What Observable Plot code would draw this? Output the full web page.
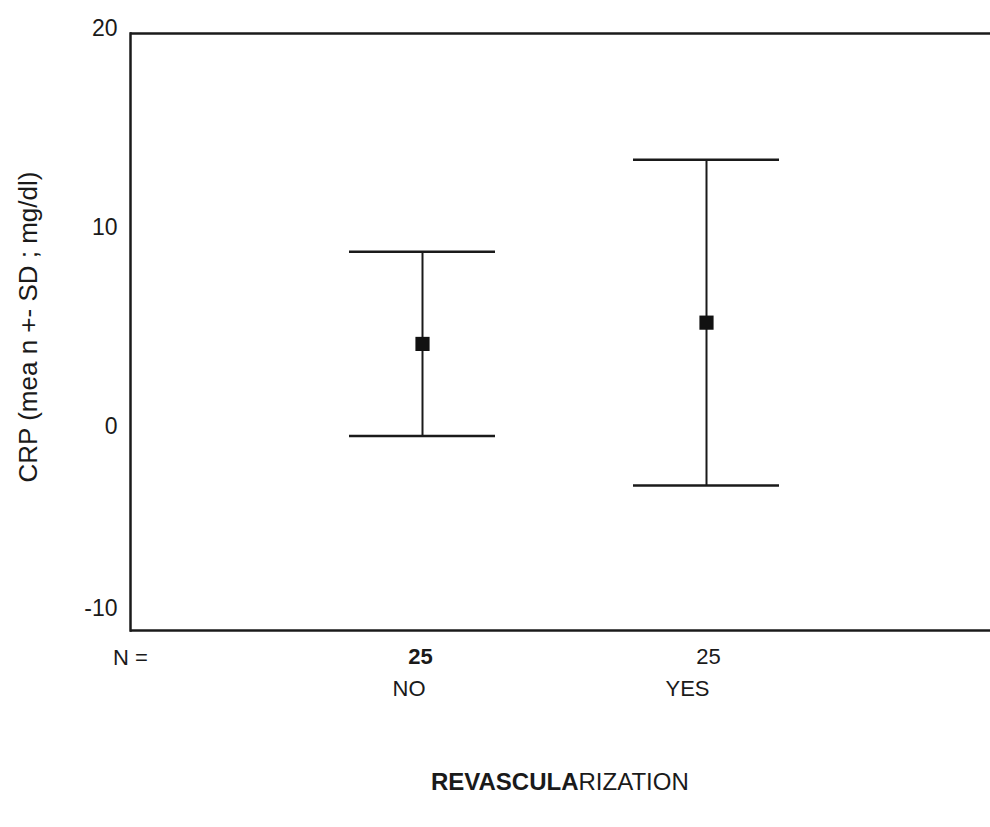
<!DOCTYPE html>
<html><head><meta charset="utf-8">
<script src="https://cdn.jsdelivr.net/npm/d3@7"></script>
<script src="https://cdn.jsdelivr.net/npm/@observablehq/plot@0.6"></script>
<style>body{margin:0;background:#fff;}</style>
</head><body><div id="chart"></div>
<script>
const groups = ["NO", "YES"];
const means = [4.4, 5.47];
const sds = [4.63, 8.18];
const counts = [25, 25];
const yTicks = [-10, 0, 10, 20];
const yLabel = "CRP (mea n +- SD ; mg/dl)";
const xLabelA = "REVASCULA";
const xLabelB = "RIZATION";
const nLabel = "N =";

const data = groups.map((g, i) => ({group: g, mean: means[i], sd: sds[i], lo: means[i] - sds[i], hi: means[i] + sds[i], n: counts[i]}));
const ink = "#1a1a1a";
const font = "'Liberation Sans', Arial, sans-serif";

const chart = Plot.plot({
  width: 990, height: 827,
  marginLeft: 130, marginRight: 0, marginTop: 33, marginBottom: 197,
  style: {fontFamily: font, fontSize: "22px", color: ink, background: "#fff", overflow: "visible"},
  x: {type: "band", domain: groups, paddingInner: 0.486, paddingOuter: 0.743, insetLeft: 8, axis: null},
  y: {domain: [-10, 20], axis: null},
  marks: [
    // frame lines
    Plot.ruleY([-10, 20], {stroke: ink, strokeWidth: 2.5}),
    Plot.frame({anchor: "left", stroke: ink, strokeWidth: 2.5}),
    // y tick labels
    Plot.text(yTicks.filter(d => d !== -10), {y: d => d, text: d => String(d), frameAnchor: "left", textAnchor: "end", lineAnchor: "middle", dx: -13, dy: -5, fontSize: 23, fill: ink}),
    Plot.text(yTicks.filter(d => d === -10), {y: d => d, text: d => String(d), frameAnchor: "left", textAnchor: "end", lineAnchor: "middle", dx: -13, dy: -22, fontSize: 23, fill: ink}),
    // y label
    Plot.text([yLabel], {frameAnchor: "left", textAnchor: "middle", lineAnchor: "middle", dx: -102, dy: -5, rotate: -90, fontSize: 26, fill: ink}),
    // error bars
    Plot.ruleX(data, {x: "group", y1: "lo", y2: "hi", stroke: ink, strokeWidth: 2}),
    Plot.tickY(data, {x: "group", y: "hi", stroke: ink, strokeWidth: 2.5}),
    Plot.tickY(data, {x: "group", y: "lo", stroke: ink, strokeWidth: 2.5}),
    Plot.dot(data, {x: "group", y: "mean", symbol: "square", r: 8, fill: "#111", stroke: "none"}),
    // N row
    Plot.text([nLabel], {frameAnchor: "bottom-left", textAnchor: "middle", lineAnchor: "middle", dy: 27, fontSize: 22, fill: ink}),
    Plot.text(data.filter(d => d.group === "NO"), {x: "group", text: d => String(d.n), frameAnchor: "bottom", lineAnchor: "middle", dy: 26, dx: -2, fontWeight: "bold", fontSize: 22, fill: ink}),
    Plot.text(data.filter(d => d.group !== "NO"), {x: "group", text: d => String(d.n), frameAnchor: "bottom", lineAnchor: "middle", dy: 26, dx: 2, fontSize: 22, fill: ink}),
    // category labels
    Plot.text(data, {x: "group", text: "group", frameAnchor: "bottom", textAnchor: "end", lineAnchor: "middle", dx: 3, dy: 58, fontSize: 22, fill: ink}),
    // x title
    Plot.text([xLabelA], {frameAnchor: "bottom", textAnchor: "end", lineAnchor: "middle", dx: 18, dy: 152, fontWeight: "bold", fontSize: 24, fill: ink}),
    Plot.text([xLabelB], {frameAnchor: "bottom", textAnchor: "start", lineAnchor: "middle", dx: 18, dy: 152, fontSize: 24, fill: ink})
  ]
});
document.getElementById("chart").appendChild(chart);
</script>
</body></html>
